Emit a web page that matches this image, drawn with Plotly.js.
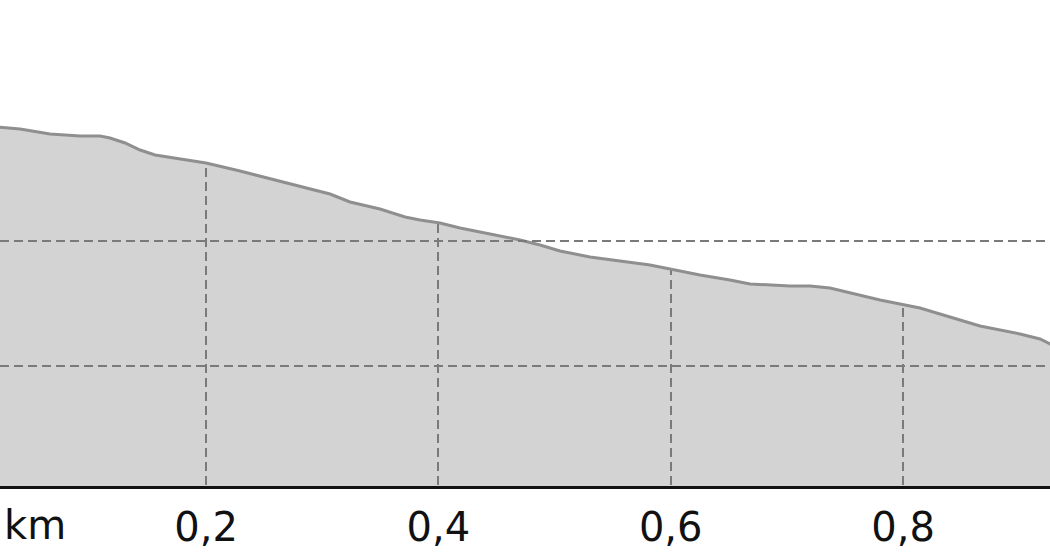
<!DOCTYPE html>
<html>
<head>
<meta charset="utf-8">
<script src="https://cdn.plot.ly/plotly-3.0.1.min.js"></script>
<style>
  html, body { margin: 0; padding: 0; background: #fff; }
  #profile { width: 1050px; height: 560px; }
</style>
</head>
<body>
<div id="profile"></div>
<script>
// elevation profile (distance in km, elevation in m)
const distKm = [0, 0.0226, 0.0399, 0.0657, 0.0915, 0.1087, 0.1173, 0.1303, 0.1432, 0.1561,
  0.1733, 0.2, 0.2292, 0.2533, 0.2723, 0.3067, 0.3239, 0.3497, 0.3713, 0.3842,
  0.4014, 0.4186, 0.4445, 0.4703, 0.4875, 0.5047, 0.5305, 0.5564, 0.5822, 0.5994,
  0.6252, 0.651, 0.6683, 0.7027, 0.7199, 0.7371, 0.7543, 0.7802, 0.7974, 0.8146,
  0.8404, 0.8662, 0.9007, 0.9179, 0.9265, 0.94];
const elevM = [319.3, 319.12, 318.96, 318.56, 318.4, 318.4, 318.24, 317.84, 317.28, 316.88,
  316.64, 316.24, 315.6, 315.04, 314.56, 313.76, 313.12, 312.56, 311.92, 311.68,
  311.44, 311.04, 310.56, 310.08, 309.68, 309.2, 308.72, 308.4, 308.08, 307.76,
  307.28, 306.88, 306.56, 306.4, 306.4, 306.24, 305.84, 305.28, 304.96, 304.64,
  303.92, 303.2, 302.56, 302.16, 301.76, 301.2];

const tickKm = [0.2, 0.4, 0.6, 0.8];
const gridElev = [300, 310];
const unitLabel = 'km';

const xRange = [0.0226, 0.9265];
const yRange = [290.4, 329.28];

const gridColor = '#7a7a7a';
const fillColor = '#d3d3d3';

// the plot background is the grey fill; a white band above the profile hides
// the vertical grid there, so it only shows under the curve
var skyTop = {
  x: [distKm[0], distKm[distKm.length - 1]],
  y: [yRange[1] + 20, yRange[1] + 20],
  mode: 'lines',
  line: { width: 0 },
  hoverinfo: 'skip',
  showlegend: false
};

var profile = {
  x: distKm,
  y: elevM,
  mode: 'lines',
  fill: 'tonexty',
  fillcolor: '#ffffff',
  line: { color: '#8f8f8f', width: 3 },
  hoverinfo: 'skip',
  showlegend: false
};

// horizontal grid goes over everything (it is visible above the curve too)
var shapes = gridElev.map(e => ({
  type: 'line', layer: 'above',
  xref: 'paper', x0: 0, x1: 1,
  yref: 'y', y0: e, y1: e,
  line: { color: gridColor, width: 2, dash: '9px,5px' }
}));

var layout = {
  width: 1050,
  height: 560,
  margin: { l: 0, r: 0, t: 0, b: 74 },
  paper_bgcolor: '#ffffff',
  plot_bgcolor: fillColor,
  separators: ',.',
  font: { family: 'DejaVu Sans', size: 40, color: '#111' },
  xaxis: {
    range: xRange,
    tickvals: tickKm,
    tickformat: '.1f',
    ticks: '',
    showgrid: true,
    gridcolor: gridColor,
    gridwidth: 2,
    griddash: '9px,5px',
    zeroline: false,
    showline: true,
    linecolor: '#111',
    linewidth: 3,
    ticklabelstandoff: 4,
    tickfont: { family: 'DejaVu Sans', size: 40, color: '#111' }
  },
  yaxis: {
    range: yRange,
    showgrid: false,
    zeroline: false,
    showticklabels: false,
    ticks: ''
  },
  shapes: shapes,
  annotations: [{
    text: unitLabel,
    xref: 'paper', x: 0, xanchor: 'left', xshift: 2,
    yref: 'paper', y: 0, yanchor: 'top', yshift: -14,
    showarrow: false,
    font: { family: 'DejaVu Sans', size: 40, color: '#111' }
  }]
};

Plotly.newPlot('profile', [skyTop, profile], layout, { staticPlot: true, displayModeBar: false });
</script>
</body>
</html>
